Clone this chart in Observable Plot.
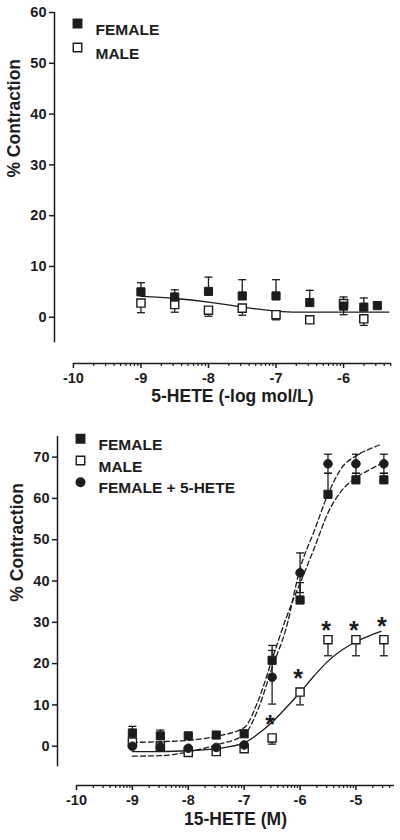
<!DOCTYPE html>
<html><head><meta charset="utf-8">
<script src="https://cdn.jsdelivr.net/npm/d3@7"></script>
<script src="https://cdn.jsdelivr.net/npm/@observablehq/plot@0.6"></script>
<style>
body{margin:0;background:#fff;}
#chart svg{display:block;}
#chart svg text{font-weight:bold !important;font-family:'Liberation Sans', Arial, Helvetica, sans-serif !important;}
</style></head><body><div id="chart"></div>
<script>
// ---------- top panel (5-HETE) ----------
const topFemaleDoses = [-9, -8.5, -8, -7.5, -7, -6.5, -6, -5.7, -5.5];
const topFemale      = [5.0, 4.0, 5.1, 4.2, 4.2, 2.9, 2.2, 2.0, 2.3];
const topFemaleErr   = [1.8, 1.4, 2.8, 3.2, 3.2, 2.4, 1.8, 1.8, 0];
const topMaleDoses   = [-9, -8.5, -8, -7.5, -7, -6.5, -6, -5.7];
const topMale        = [2.8, 2.5, 1.4, 1.8, 0.5, -0.5, 2.7, -0.3];
const topMaleErr     = [1.9, 1.5, 1.2, 1.4, 1.0, 0.6, 2.2, 1.3];
const topFitX = [-9, -8.5, -8, -7.5, -7, -6.7, -6.5, -6, -5.5, -5.33];
const topFitY = [4.1, 3.7, 3.0, 2.0, 1.2, 1.0, 1.0, 1.0, 1.0, 1.0];
const topYTicks = [0, 10, 20, 30, 40, 50, 60];
const topXTicks = [-10, -9, -8, -7, -6];
const topXLabel = "5-HETE (-log mol/L)";
const topLegend = ["FEMALE", "MALE"];

// ---------- bottom panel (15-HETE) ----------
const botDoses      = [-9, -8.5, -8, -7.5, -7, -6.5, -6, -5.5, -5, -4.5];
const botFemale     = [3.2, 2.5, 2.5, 2.7, 3.0, 20.8, 35.4, 61.0, 64.5, 64.5];
const botFemaleErr  = [1.6, 1.4, 0.3, 0.3, 0.3, 3.6, 4.2, 5.1, 1.6, 1.6];
const botMale       = [1.0, 0.0, -1.5, -1.3, -0.6, 2.0, 13.1, 25.8, 25.8, 25.8];
const botMaleErr    = [0.4, 0.4, 0.4, 0.4, 0.4, 1.5, 3.1, 3.9, 3.9, 3.9];
const botFemale5    = [0.0, -0.2, -0.5, -0.3, 0.3, 16.7, 42.0, 68.4, 68.4, 68.4];
const botFemale5Err = [0.3, 0.3, 0.3, 0.3, 0.3, 6.5, 4.8, 2.3, 2.3, 2.3];
const botFitX      = [-9, -8.5, -8, -7.5, -7, -6.75, -6.5, -6.25, -6, -5.75, -5.5, -5.25, -5, -4.75, -4.55];
const botFitFemale = [0.9, 1.1, 1.4, 2.4, 4.5, 11, 21, 31, 39.5, 47.8, 56.5, 62, 65, 67, 68.4];
const botFitFem5   = [-2.4, -2.3, -1.4, 0.3, 2.8, 9, 19, 28.5, 43, 52, 61, 67.5, 70.3, 72, 73.1];
const botFitMale   = [-1.3, -1.3, -1.1, -0.6, 0.8, 3.0, 5.8, 9.3, 13.0, 17.0, 20.6, 23.3, 25.3, 26.8, 27.8];
const starDoses = [-6.5, -6, -5.5, -5, -4.5];
const starY     = [6.9, 17.9, 29.6, 29.6, 30.6];
const botYTicks = [0, 10, 20, 30, 40, 50, 60, 70];
const botXTicks = [-10, -9, -8, -7, -6, -5];
const botXLabel = "15-HETE (M)";
const botLegend = ["FEMALE", "MALE", "FEMALE + 5-HETE"];

const yLabel = "% Contraction";

// ---------- helpers ----------
const ink = "#1c1c1c";
const font = "'Liberation Sans', Arial, Helvetica, sans-serif";
const capSymbol = {draw(ctx, size) { const w = Math.sqrt(size / Math.PI); ctx.moveTo(-w, 0); ctx.lineTo(w, 0); }};

function logMinor(start, end) {
  const out = [];
  for (let d = start; d < end; d++) for (let k = 2; k <= 9; k++) { const v = d + Math.log10(k); if (v <= end + 1e-9) out.push(v); }
  return out;
}
function errMarks(xs, vs, es, dirs) {
  const marks = [];
  for (const dir of dirs) {
    const d = xs.map((x, i) => ({x, v: vs[i], e: vs[i] + dir * es[i]})).filter((d, i) => es[i] > 0);
    marks.push(Plot.ruleX(d, {x: "x", y1: "v", y2: "e", stroke: ink, strokeWidth: 1.3}));
    marks.push(Plot.dot(d, {x: "x", y: "e", symbol: capSymbol, r: 4, stroke: ink, strokeWidth: 1.3}));
  }
  return marks;
}
function series(xs, vs) { return xs.map((x, i) => ({x, v: vs[i]})); }
function axisMarks(xTicks, xMin, xMax, yTicks, yMin, yMax, yBottom, xLabel, titleDy) {
  return [
    Plot.ruleX([xMin], {y1: yMin, y2: yMax, stroke: ink, strokeWidth: 1.5}),
    Plot.ruleY([yBottom], {x1: xTicks[0], x2: xMax, stroke: ink, strokeWidth: 1.5}),
    Plot.axisY({ticks: yTicks, tickSize: 5, tickPadding: 3, tickFormat: d => String(d), label: null, stroke: ink, fill: ink, strokeWidth: 1.5, fontSize: 14.5}),
    Plot.axisX({ticks: xTicks, tickSize: 5, tickPadding: 4, tickFormat: d => String(d), label: null, stroke: ink, fill: ink, strokeWidth: 1.5, fontSize: 14.5}),
    Plot.axisX({ticks: logMinor(xTicks[0], xMax), tickSize: 3, tickFormat: () => "", label: null, stroke: ink, strokeWidth: 1.2}),
    Plot.text([{t: xLabel, x: (xTicks[0] + xMax) / 2}], {x: "x", text: "t", frameAnchor: "bottom", dy: titleDy, fontSize: 17.5, fill: ink}),
    Plot.text([{t: yLabel, y: (yMin + yMax) / 2}], {y: "y", text: "t", frameAnchor: "left", dx: -40, rotate: -90, fontSize: 17.5, fill: ink})
  ];
}
function legendMarks(labels, symbols, fills, dx, dy0, step) {
  const marks = [];
  labels.forEach((lab, i) => {
    marks.push(Plot.dot([lab], {frameAnchor: "top-left", dx, dy: dy0 + i * step, symbol: symbols[i], r: symbols[i] === "circle" ? 4.3 : 4.8, fill: fills[i], stroke: ink, strokeWidth: 1.4}));
    marks.push(Plot.text([lab], {frameAnchor: "top-left", dx: dx + 18, dy: dy0 + i * step, text: d => d, textAnchor: "start", fontSize: 15.5, fill: ink}));
  });
  return marks;
}

// ---------- top chart ----------
const topXMin = -10.28, topXMax = -5.29, topYMin = -9.1;
const topChart = Plot.plot({
  width: 400, height: 410,
  marginLeft: 54, marginRight: 9, marginTop: 12, marginBottom: 47,
  style: {fontFamily: font, fontSize: "14.5px", background: "#fff", color: ink},
  x: {domain: [topXMin, topXMax]},
  y: {domain: [topYMin, 60]},
  marks: [
    ...axisMarks(topXTicks, topXMin, topXMax, topYTicks, -5, 60, topYMin, topXLabel, 38.5),
    Plot.line(series(topFitX, topFitY), {x: "x", y: "v", stroke: ink, strokeWidth: 1.3, curve: "monotone-x"}),
    ...errMarks(topFemaleDoses, topFemale, topFemaleErr, [1]),
    ...errMarks(topMaleDoses, topMale, topMaleErr, [-1]),
    Plot.dot(series(topMaleDoses, topMale), {x: "x", y: "v", symbol: "square", r: 4.6, fill: "#fff", stroke: ink, strokeWidth: 1.4}),
    Plot.dot(series(topFemaleDoses, topFemale), {x: "x", y: "v", symbol: "square", r: 4.6, fill: ink, stroke: ink, strokeWidth: 1}),
    ...legendMarks(topLegend, ["square", "square"], [ink, "#fff"], 23, 11, 24)
  ]
});

// ---------- bottom chart ----------
const botXMin = -10.34, botXMax = -4.31, botYMin = -9.52;
const bottomChart = Plot.plot({
  width: 400, height: 430,
  marginLeft: 57, marginRight: 6, marginTop: 26, marginBottom: 55,
  style: {fontFamily: font, fontSize: "14.5px", background: "#fff", color: ink},
  x: {domain: [botXMin, botXMax]},
  y: {domain: [botYMin, 75]},
  marks: [
    ...axisMarks(botXTicks, botXMin, botXMax, botYTicks, -5, 75, botYMin, botXLabel, 39),
    Plot.line(series(botFitX, botFitFemale), {x: "x", y: "v", stroke: ink, strokeWidth: 1.3, strokeDasharray: "5,3", curve: "monotone-x"}),
    Plot.line(series(botFitX, botFitFem5), {x: "x", y: "v", stroke: ink, strokeWidth: 1.3, strokeDasharray: "5,3", curve: "monotone-x"}),
    Plot.line(series(botFitX, botFitMale), {x: "x", y: "v", stroke: ink, strokeWidth: 1.3, curve: "monotone-x"}),
    ...errMarks(botDoses, botFemale, botFemaleErr, [1]),
    ...errMarks(botDoses, botMale, botMaleErr, [-1]),
    ...errMarks(botDoses, botFemale5, botFemale5Err, [1, -1]),
    Plot.dot(series(botDoses, botMale), {x: "x", y: "v", symbol: "square", r: 4.6, fill: "#fff", stroke: ink, strokeWidth: 1.4}),
    Plot.dot(series(botDoses, botFemale), {x: "x", y: "v", symbol: "square", r: 4.6, fill: ink, stroke: ink, strokeWidth: 1}),
    Plot.dot(series(botDoses, botFemale5), {x: "x", y: "v", symbol: "circle", r: 4.3, fill: ink, stroke: ink, strokeWidth: 1}),
    Plot.text(series(starDoses, starY), {x: "x", y: "v", text: () => "*", dx: -2, dy: 7, fontSize: 25, fill: ink}),
    ...legendMarks(botLegend, ["square", "square", "circle"], [ink, "#fff", ink], 23, 2.3, 21.7)
  ]
});

const root = document.getElementById("chart");
root.appendChild(topChart);
root.appendChild(bottomChart);
</script></body></html>
